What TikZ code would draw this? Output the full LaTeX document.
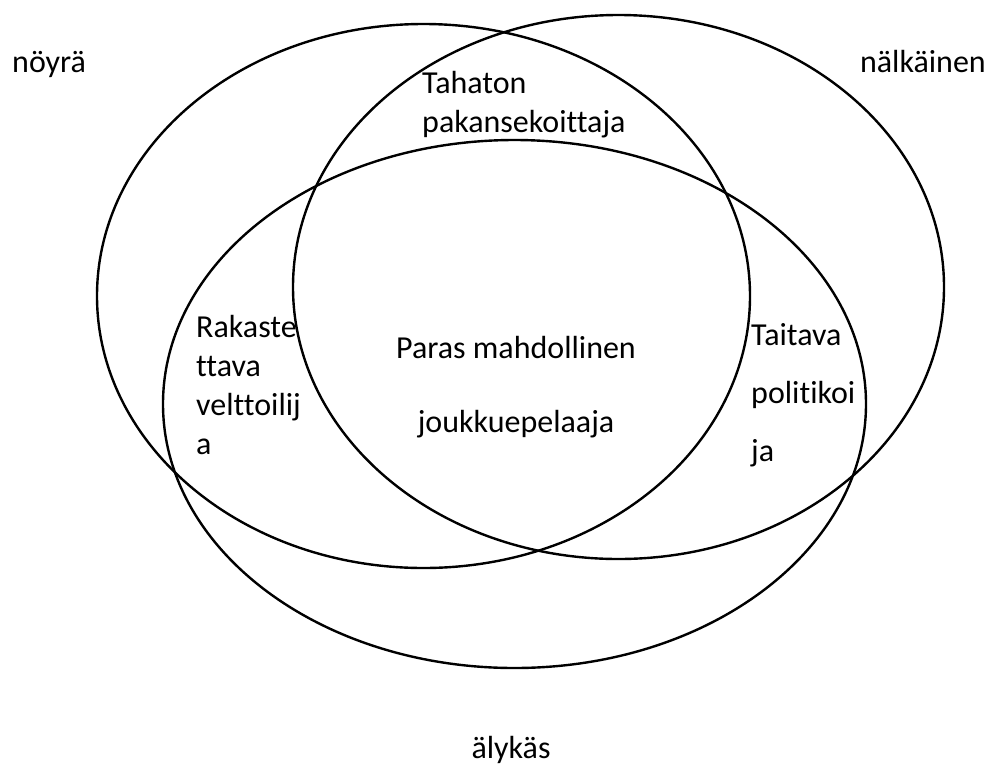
\documentclass[tikz,border=0pt]{standalone}
\usepackage{fontspec}
\setmainfont[Ligatures=NoCommon]{Carlito}
\begin{document}
\begin{tikzpicture}[x=1pt,y=-1pt,
  venn/.style={draw=black,line width=2.4pt},
  lbl/.style={inner sep=0pt,font=\fontsize{32}{39}\selectfont},
  lblwide/.style={inner sep=0pt,font=\fontsize{32}{58}\selectfont},
  lblmid/.style={inner sep=0pt,font=\fontsize{32}{74}\selectfont}]
\useasboundingbox (0,0) rectangle (998,769);
% the three sets
\draw[venn] (423.5,296) ellipse [x radius=326.5, y radius=272];
\draw[venn] (618.5,287) ellipse [x radius=325.5, y radius=272];
\draw[venn] (514.5,404) ellipse [x radius=351.5, y radius=264];
% set names
\node[lbl,anchor=base west] (noyra) at (12,72) {nöyrä};
\node[lbl,anchor=base east] (nalkainen) at (986,72) {nälkäinen};
\node[lbl,anchor=base] (alykas) at (511,758) {älykäs};
% overlap labels (base anchor sits on the last line)
\node[lbl,anchor=base west,align=left] (tahaton) at (422,132) {Tahaton\\pakansekoittaja};
\node[lbl,anchor=base west,align=left] (rakaste) at (196,454) {Rakaste\\ttava\\velttoilij\\a};
\node[lblwide,anchor=base west,align=left] (taitava) at (751,461) {Taitava\\politikoi\\ja};
\node[lblmid,anchor=base,align=center] (paras) at (516,432) {Paras mahdollinen\\joukkuepelaaja};
\end{tikzpicture}
\end{document}
